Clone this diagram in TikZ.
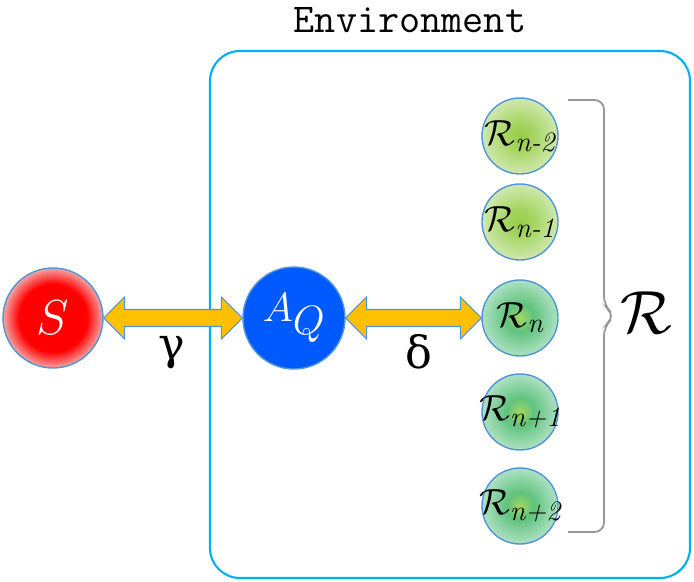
\RequirePackage{fix-cm}
\documentclass[tikz,border=0pt]{standalone}
\usepackage{amsmath}
\usepackage{fontspec}
\usetikzlibrary{calc}
\newfontfamily\grkfont{DejaVu Serif}
\definecolor{envblue}{RGB}{0,176,240}
\definecolor{rimblue}{RGB}{80,150,215}
\definecolor{sred}{RGB}{255,0,0}
\definecolor{spink}{RGB}{245,165,165}
\definecolor{qblue}{RGB}{0,90,255}
\definecolor{arrowyel}{RGB}{255,192,0}
\definecolor{lime1}{RGB}{150,205,70}
\definecolor{lime2}{RGB}{208,232,175}
\definecolor{grn1}{RGB}{165,215,95}
\definecolor{grn2}{RGB}{95,195,125}
\definecolor{grn3}{RGB}{175,225,195}
\definecolor{bracegray}{RGB}{150,150,150}
\pgfdeclareradialshading{redball}{\pgfpoint{0bp}{0bp}}{color(0bp)=(sred); color(17bp)=(sred); color(25bp)=(spink); color(50bp)=(spink)}
\pgfdeclareradialshading{limeball}{\pgfpoint{0bp}{0bp}}{color(0bp)=(lime1); color(9bp)=(lime1!85!white); color(25bp)=(lime2); color(50bp)=(lime2)}
\pgfdeclareradialshading{greenball}{\pgfpoint{0bp}{0bp}}{color(0bp)=(grn1); color(9bp)=(grn2); color(25bp)=(grn3); color(50bp)=(grn3)}
\tikzset{sb/.style = {circle, draw=rimblue, line width=1.2pt, minimum size=3cm, inner sep=0pt, shading=redball, text=white},
    qb/.style = {circle, draw=rimblue, line width=1.2pt, minimum size=3.06cm, inner sep=0pt, fill=qblue, text=white},
    rb/.style = {circle, draw=rimblue, line width=1.2pt, minimum size=2.28cm, inner sep=0pt, shading=limeball},
    rc/.style = {circle, draw=rimblue, line width=1.2pt, minimum size=2.28cm, inner sep=0pt, shading=greenball},
    every label/.style = {font=\fontsize{31}{31}\selectfont, inner sep=0pt},
    lk/.style = {draw=rimblue, line width=0.9pt, fill=arrowyel, line join=miter}}
\newcommand{\lkarrow}[2]{%
    \draw[lk] (#1) -- ++(21,-21) -- ++(0,12.5) -- ($(#2)+(-21,-8.5)$) -- ++(0,-12.5) -- (#2)
        -- ++(-21,21) -- ++(0,-12.5) -- ($(#1)+(21,8.5)$) -- ++(0,12.5) -- cycle;}
\newcommand{\rsub}[1]{\mbox{\fontsize{24}{24}\selectfont\itshape #1}}

\begin{document}
\begin{tikzpicture}[x=0.03cm, y=-0.03cm]
        \useasboundingbox (0,0) rectangle (694,581);
        \draw[envblue, line width=1.8pt, rounded corners=0.9cm] (210,51) rectangle (690,578);
        \node (env) at (410,20) {\ttfamily\fontsize{35}{35}\selectfont Environment};

        \node[sb] (s) at (53,318) {\fontsize{42}{42}\selectfont$S$};
        \node[qb] (q) at (294,318) {\fontsize{35}{35}\selectfont$A_{\textstyle Q}$};
        \foreach \n/\y/\t in {rn2/136/n-2, rn1/222/n-1}
            \node[rb, label={center:$\mathcal{R}_{\rsub{\t}}$}] (\n) at (520,\y) {};
        \foreach \n/\y/\t in {rn/318/n, rp1/412/n+1, rp2/506/n+2}
            \node[rc, label={center:$\mathcal{R}_{\rsub{\t}}$}] (\n) at (520,\y) {};

        \lkarrow{s.east}{q.west}
        \lkarrow{q.east}{rn.west}
        \node (g) at (172,353) {\grkfont\fontsize{38}{38}\selectfont γ};
        \node (d) at (419,352) {\grkfont\fontsize{38}{38}\selectfont δ};

        % brace around the R nodes
        \coordinate (bt) at (568,100);
        \coordinate (bb) at (568,532);
        \draw[bracegray, line width=1.5pt, rounded corners=8pt] (bt) -- (604,100) -- (604,306) -- (615,316)
            -- (604,326) -- (604,532) -- (bb);
        \node (rr) at (646,313) {\fontsize{52}{52}\selectfont$\mathcal{R}$};
    \end{tikzpicture}
\end{document}
